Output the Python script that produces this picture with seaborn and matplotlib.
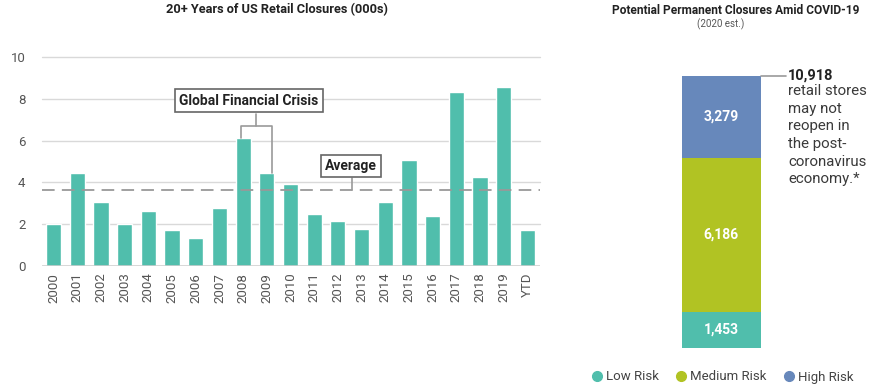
import matplotlib
matplotlib.use("Agg")
import matplotlib.pyplot as plt
from matplotlib.lines import Line2D
import seaborn as sns
import pandas as pd

# ---- data ----
years = ["2000", "2001", "2002", "2003", "2004", "2005", "2006", "2007", "2008", "2009",
         "2010", "2011", "2012", "2013", "2014", "2015", "2016", "2017", "2018", "2019", "YTD"]
closures = [2.0, 4.46, 3.07, 2.0, 2.64, 1.71, 1.33, 2.78, 6.14, 4.43,
            3.92, 2.48, 2.13, 1.76, 3.07, 5.07, 2.37, 8.35, 4.26, 8.59, 1.70]
average_value = 3.62
yticks = [0, 2, 4, 6, 8, 10]

risk_levels = ["Low Risk", "Medium Risk", "High Risk"]
risk_values = [1453, 6186, 3279]
risk_labels = ["1,453", "6,186", "3,279"]
total_label = "10,918"

TEAL = "#50BEAC"
GREEN = "#B1C323"
BLUE = "#6788BB"
risk_colors = [TEAL, GREEN, BLUE]
GRID = "#D9D9D9"
TXT = "#222222"
TICK = "#555555"

sns.set_theme(style="white")
plt.rcParams["font.family"] = ["Roboto", "DejaVu Sans"]

fig = plt.figure(figsize=(8.8, 3.87), dpi=100)
W, H = 880, 387

def fx(px):
    return px / W

def fy(py):
    return 1 - py / H

# ---- left chart ----
ax = fig.add_axes([fx(42), fy(265.7), fx(540 - 42), fy(57.3) - fy(265.7)])
df = pd.DataFrame({"year": years, "val": closures})
sns.barplot(data=df, x="year", y="val", color=TEAL, saturation=1, width=0.64, ax=ax, zorder=3)
ax.set_xlim(-0.49, len(years) - 0.47)
ax.set_ylim(0, 10)
ax.set_yticks(yticks)
ax.set_yticklabels([str(t) for t in yticks])
for t in yticks[1:]:
    ax.axhline(t, color=GRID, lw=1.0, zorder=1, clip_on=False)
ax.axhline(0, color="#CCCCCC", lw=1.8, zorder=4)
for s in ax.spines.values():
    s.set_visible(False)
ax.set_xlabel("")
ax.set_ylabel("")
ax.tick_params(axis="y", length=0, pad=12, labelsize=9.5, labelcolor=TICK)
ax.tick_params(axis="x", length=0, pad=5, labelsize=9.5, labelcolor=TICK, rotation=90)

ax.axhline(average_value, color="#999999", lw=1.3, ls=(0, (7, 4)), zorder=5)

# Global Financial Crisis annotation
bx_l, bx_r = 7.9, 9.22
ax.plot([bx_l, bx_l, bx_r, bx_r], [closures[8], 6.7, 6.7, closures[9]],
        color="#9A9A9A", lw=1.2, zorder=6, clip_on=False)
ax.plot([(bx_l + bx_r) / 2, (bx_l + bx_r) / 2], [6.7, 7.3], color="#9A9A9A", lw=1.2, zorder=6)
ax.text(8.25, 7.92, "Global Financial Crisis", ha="center", va="center", fontsize=10,
        fontweight="bold", color=TXT, zorder=7,
        bbox=dict(boxstyle="square,pad=0.3", fc="white", ec="#666666", lw=1.2))
# Average annotation
ax.plot([12.6, 12.6], [average_value, 4.2], color="#9A9A9A", lw=1.2, zorder=6)
ax.text(12.55, 4.8, "Average", ha="center", va="center", fontsize=10,
        fontweight="bold", color=TXT, zorder=7,
        bbox=dict(boxstyle="square,pad=0.3", fc="white", ec="#666666", lw=1.2))

fig.text(fx(277), fy(10), "20+ Years of US Retail Closures (000s)", ha="center", va="center",
         fontsize=9.2, fontweight="bold", color=TXT)

# ---- right stacked bar ----
ax2 = fig.add_axes([fx(681.7), fy(347.7), fx(761 - 681.7), fy(76) - fy(347.7)])
bottom = 0
for v, c, lab in zip(risk_values, risk_colors, risk_labels):
    ax2.bar([0], [v], bottom=bottom, width=1.0, color=c, edgecolor="none")
    ax2.text(0, bottom + v / 2, lab, ha="center", va="center", color="white",
             fontsize=10, fontweight="bold")
    bottom += v
ax2.set_xlim(-0.5, 0.5)
ax2.set_ylim(0, sum(risk_values))
ax2.axis("off")

fig.add_artist(Line2D([fx(761), fx(786)], [fy(76), fy(76)], color="#9A9A9A", lw=1.2))
fig.text(fx(788), fy(76), total_label, ha="left", va="center", fontsize=10.5,
         fontweight="bold", color=TXT)
fig.text(fx(788), fy(84), "retail stores\nmay not\nreopen in\nthe post-\ncoronavirus\neconomy.*",
         ha="left", va="top", fontsize=10.8, color="#3a3a3a", linespacing=1.33)

fig.text(fx(736), fy(10), "Potential Permanent Closures Amid COVID-19", ha="center", va="center",
         fontsize=8.6, fontweight="bold", color=TXT)
fig.text(fx(721), fy(24), "(2020 est.)", ha="center", va="center", fontsize=7, color="#555555")

handles = [Line2D([], [], marker="o", ls="none", color=c, markersize=7) for c in risk_colors]
fig.legend(handles, risk_levels, loc="center", bbox_to_anchor=(fx(722), fy(377)), ncol=3,
           frameon=False, fontsize=9.5, handletextpad=0.2, columnspacing=1.2,
           labelcolor="#444444", handlelength=1.0)

fig.savefig("out.png", dpi=100)
